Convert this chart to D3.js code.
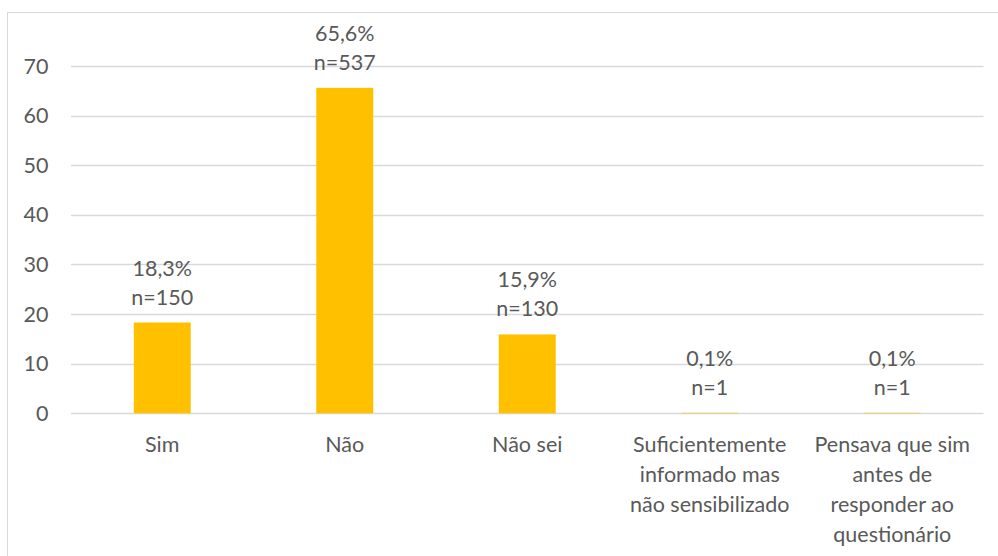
<!DOCTYPE html>
<html>
<head>
<meta charset="utf-8">
<script src="https://cdn.jsdelivr.net/npm/d3@7"></script>
<style>
  html, body { margin: 0; padding: 0; background: #fff; }
  #chart { width: 998px; height: 556px; }
  text { font-family: Lato, "Open Sans", sans-serif; fill: #595959; }
</style>
</head>
<body>
<div id="chart"></div>
<script>
// DATA
const categories = [
    ['Sim'],
    ['Não'],
    ['Não sei'],
    ['Suficientemente', 'informado mas', 'não sensibilizado'],
    ['Pensava que sim', 'antes de', 'responder ao', 'questionário']
];
const percents = [18.3, 65.6, 15.9, 0.1, 0.1];
const counts = [150, 537, 130, 1, 1];
const percentLabels = ['18,3%', '65,6%', '15,9%', '0,1%', '0,1%'];
const yTicks = [0, 10, 20, 30, 40, 50, 60, 70];

const width = 998;
const height = 556;
const MARGIN = { top: 66, right: 14.5, bottom: 142.7, left: 71 };
const gWIDTH = width - MARGIN.left - MARGIN.right;
const gHEIGHT = height - MARGIN.top - MARGIN.bottom;
const FONT = 21.5;

const svg = d3.select('#chart').append('svg')
    .attr('width', width)
    .attr('height', height);

// CHART BORDER
svg.append('rect')
    .attr('x', 7.5)
    .attr('y', 12.5)
    .attr('width', width)
    .attr('height', height)
    .attr('fill', 'none')
    .attr('stroke', '#d9d9d9')
    .attr('stroke-width', 1);

const g = svg.append('g')
    .attr('transform', `translate(${MARGIN.left}, ${MARGIN.top})`);

// SCALES
const x = d3.scaleBand()
    .domain(d3.range(categories.length))
    .range([0, gWIDTH])
    .paddingInner(0.688)
    .paddingOuter(0.344);

const y = d3.scaleLinear()
    .domain([0, 70])
    .range([gHEIGHT, 0]);

// GRIDLINES
g.selectAll('.grid')
    .data(yTicks)
    .enter()
    .append('line')
    .attr('class', 'grid')
    .attr('x1', 0)
    .attr('x2', gWIDTH)
    .attr('y1', d => Math.round(y(d)) + 0.5)
    .attr('y2', d => Math.round(y(d)) + 0.5)
    .attr('stroke', '#d9d9d9')
    .attr('stroke-width', 1.3);

// Y AXIS
const yAxisCall = d3.axisLeft(y)
    .tickValues(yTicks)
    .tickSizeInner(0)
    .tickSizeOuter(0)
    .tickPadding(22.5)
    .tickFormat(d => d);

const yAxis = g.append('g').call(yAxisCall);
yAxis.select('.domain').remove();
yAxis.selectAll('text')
    .style('font-size', FONT + 'px')
    .style('font-family', 'Lato, "Open Sans", sans-serif')
    .attr('fill', '#595959')
    .attr('dy', '0.33em');

// BARS
g.selectAll('.bar')
    .data(percents)
    .enter()
    .append('rect')
    .attr('class', 'bar')
    .attr('x', (d, i) => x(i))
    .attr('width', x.bandwidth())
    .attr('y', d => y(d))
    .attr('height', d => y(0) - y(d))
    .attr('fill', '#ffc000');

// DATA LABELS
const labels = g.selectAll('.data-label')
    .data(percents)
    .enter()
    .append('text')
    .attr('class', 'data-label')
    .attr('text-anchor', 'middle')
    .style('font-size', FONT + 'px');

labels.append('tspan')
    .attr('x', (d, i) => x(i) + x.bandwidth() / 2)
    .attr('y', d => y(d) - 47)
    .text((d, i) => percentLabels[i]);

labels.append('tspan')
    .attr('x', (d, i) => x(i) + x.bandwidth() / 2)
    .attr('y', d => y(d) - 18)
    .text((d, i) => 'n=' + counts[i]);

// CATEGORY LABELS
const cats = g.selectAll('.cat-label')
    .data(categories)
    .enter()
    .append('text')
    .attr('class', 'cat-label')
    .attr('text-anchor', 'middle')
    .style('font-size', FONT + 'px');

cats.selectAll('tspan')
    .data((d, i) => d.map(line => ({ line, i })))
    .enter()
    .append('tspan')
    .attr('x', d => x(d.i) + x.bandwidth() / 2)
    .attr('y', (d, j) => gHEIGHT + 39 + j * 30)
    .text(d => d.line);
</script>
</body>
</html>
